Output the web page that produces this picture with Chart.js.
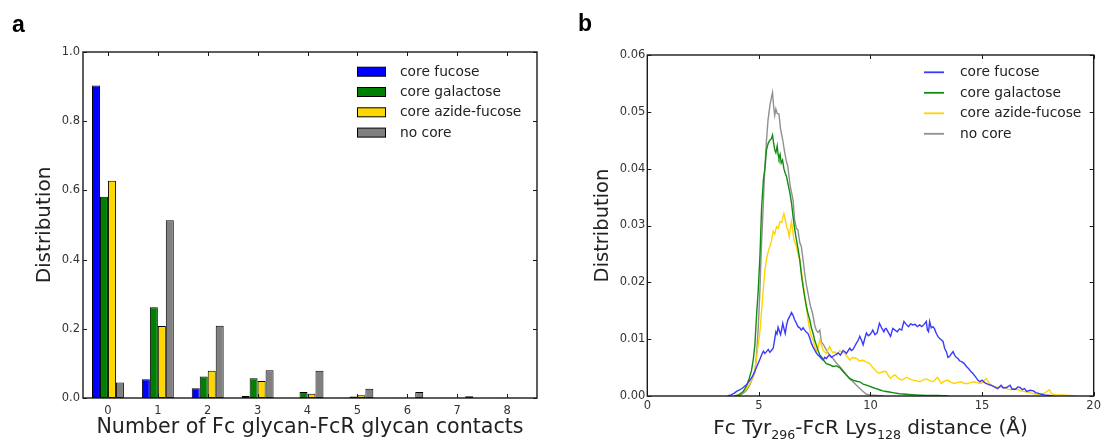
<!DOCTYPE html>
<html>
<head>
<meta charset="utf-8">
<script src="https://cdn.jsdelivr.net/npm/chart.js@4.4.1/dist/chart.umd.min.js"></script>
<style>
  html, body { margin: 0; padding: 0; background: #fff; }
  #wrap { position: relative; width: 1104px; height: 441px; }
  canvas { position: absolute; top: 0; }
  #contacts { left: 0; }
  #distance { left: 552px; }
</style>
</head>
<body>
<div id="wrap">
  <canvas id="contacts" width="552" height="441"></canvas>
  <canvas id="distance" width="552" height="441"></canvas>
</div>
<script>
// ---- panel a: glycan-glycan contact counts ----
const contactCounts = [0, 1, 2, 3, 4, 5, 6, 7, 8];
const fucoseContacts    = [0.903, 0.054, 0.028, 0.006, 0.001, 0.001, 0.0005, 0.0005, 0.0005];
const galactoseContacts = [0.582, 0.262, 0.062, 0.057, 0.017, 0.004, 0.001, 0.0005, 0.0005];
const azideContacts     = [0.628, 0.208, 0.079, 0.049, 0.012, 0.008, 0.001, 0.0005, 0.0005];
const noCoreContacts    = [0.045, 0.514, 0.209, 0.080, 0.079, 0.027, 0.017, 0.005, 0.001];

// ---- panel b: Tyr296 - Lys128 distance histograms, [distance (A), fraction] ----
const fucoseDist = [
  [3.6,0],[3.75,0.0002],[3.9,0.0005],[4.0,0.0008],[4.15,0.0011],[4.3,0.0015],[4.45,0.002],[4.6,0.0028],
  [4.72,0.0035],[4.82,0.0044],[4.95,0.0056],[5.05,0.0065],[5.12,0.0072],[5.2,0.0079],[5.27,0.0075],
  [5.34,0.0078],[5.42,0.0082],[5.49,0.0077],[5.56,0.008],[5.64,0.0084],[5.7,0.0098],[5.76,0.0113],
  [5.81,0.0109],[5.86,0.0121],[5.92,0.0114],[5.97,0.0108],[6.02,0.0117],[6.07,0.0128],[6.12,0.0119],
  [6.18,0.011],[6.24,0.0125],[6.3,0.0134],[6.38,0.014],[6.46,0.0147],[6.53,0.0142],[6.6,0.0134],
  [6.68,0.0128],[6.75,0.0122],[6.83,0.012],[6.9,0.0116],[6.98,0.012],[7.05,0.0116],[7.13,0.0112],
  [7.2,0.011],[7.28,0.0102],[7.35,0.0093],[7.43,0.0086],[7.5,0.0081],[7.57,0.0076],[7.65,0.0072],
  [7.73,0.0069],[7.8,0.0066],[7.88,0.0063],[7.95,0.0068],[8.02,0.0066],[8.1,0.007],[8.17,0.0072],
  [8.25,0.0068],[8.32,0.007],[8.45,0.0073],[8.55,0.0076],[8.65,0.0072],[8.77,0.008],[8.85,0.0078],
  [8.92,0.0075],[9.0,0.008],[9.07,0.0084],[9.15,0.008],[9.22,0.0082],[9.3,0.0088],[9.37,0.0093],
  [9.45,0.0098],[9.52,0.0105],[9.6,0.0098],[9.67,0.009],[9.75,0.0102],[9.82,0.0111],[9.9,0.0106],
  [9.97,0.0108],[10.05,0.0112],[10.1,0.0116],[10.2,0.0108],[10.3,0.0111],[10.35,0.012],[10.4,0.0128],
  [10.5,0.012],[10.6,0.0113],[10.65,0.0118],[10.7,0.0119],[10.8,0.0112],[10.9,0.0105],[10.95,0.0112],
  [11.0,0.0119],[11.1,0.0116],[11.2,0.0113],[11.3,0.0118],[11.4,0.0116],[11.45,0.0124],[11.5,0.0131],
  [11.6,0.0126],[11.7,0.0122],[11.8,0.0127],[11.9,0.0125],[12.0,0.0126],[12.1,0.0122],[12.2,0.0125],
  [12.3,0.0122],[12.4,0.0126],[12.5,0.0131],[12.55,0.0116],[12.6,0.0113],[12.65,0.0131],[12.72,0.012],
  [12.8,0.0122],[12.87,0.0118],[12.95,0.011],[13.02,0.0105],[13.1,0.0101],[13.17,0.0099],[13.25,0.0096],
  [13.32,0.0084],[13.4,0.0078],[13.47,0.0068],[13.55,0.007],[13.62,0.0074],[13.7,0.0078],[13.77,0.0072],
  [13.84,0.0068],[13.92,0.0066],[13.99,0.0062],[14.1,0.006],[14.2,0.0057],[14.3,0.0052],[14.4,0.0048],
  [14.5,0.0043],[14.58,0.004],[14.7,0.0034],[14.81,0.0028],[14.9,0.0025],[15.0,0.0028],[15.1,0.0024],
  [15.18,0.0022],[15.3,0.002],[15.4,0.0019],[15.55,0.0016],[15.7,0.0013],[15.85,0.0019],[15.95,0.0014],
  [16.1,0.0015],[16.25,0.0019],[16.35,0.0012],[16.5,0.0012],[16.6,0.0016],[16.7,0.0015],[16.8,0.0011],
  [16.9,0.0013],[17.0,0.0008],[17.15,0.001],[17.3,0.0009],[17.4,0.0006],[17.5,0.0005],[17.65,0.0003],
  [17.8,0.0002],[18.0,0.0001],[18.2,0]
];
const galactoseDist = [
  [3.9,0],[4.1,0.0002],[4.3,0.0008],[4.45,0.0018],[4.56,0.003],[4.67,0.0045],[4.75,0.0065],[4.82,0.009],
  [4.9,0.0145],[4.97,0.0185],[5.05,0.025],[5.12,0.033],[5.2,0.038],[5.27,0.04],[5.34,0.0433],
  [5.42,0.0445],[5.49,0.045],[5.55,0.0452],[5.61,0.0459],[5.66,0.0445],[5.71,0.0433],[5.76,0.0428],
  [5.82,0.044],[5.86,0.0425],[5.9,0.0418],[5.95,0.0425],[6.0,0.041],[6.06,0.0415],[6.12,0.04],
  [6.18,0.0392],[6.24,0.0386],[6.32,0.037],[6.39,0.0357],[6.46,0.034],[6.53,0.0316],[6.6,0.0295],
  [6.68,0.0275],[6.75,0.026],[6.83,0.024],[6.9,0.0215],[6.98,0.0192],[7.05,0.0175],[7.13,0.0157],
  [7.2,0.0145],[7.28,0.0134],[7.35,0.012],[7.43,0.011],[7.5,0.0098],[7.57,0.009],[7.65,0.008],
  [7.73,0.0072],[7.8,0.0069],[7.88,0.0064],[8.02,0.0057],[8.17,0.0055],[8.32,0.0052],[8.47,0.0053],
  [8.62,0.005],[8.77,0.0043],[8.92,0.0037],[9.07,0.0031],[9.22,0.0028],[9.37,0.0026],[9.52,0.0025],
  [9.67,0.0021],[9.82,0.0019],[9.97,0.0017],[10.1,0.0015],[10.25,0.0013],[10.4,0.0011],[10.55,0.0009],
  [10.7,0.0008],[10.85,0.0007],[11.0,0.0006],[11.3,0.0004],[11.6,0.0003],[12.0,0.0002],[12.5,0.0001],
  [13.0,0.0001],[13.5,0]
];
const azideDist = [
  [3.9,0],[4.1,0.0002],[4.3,0.0007],[4.45,0.0013],[4.6,0.0022],[4.72,0.0033],[4.82,0.0045],[4.95,0.0085],
  [5.05,0.0115],[5.12,0.015],[5.2,0.019],[5.27,0.0222],[5.34,0.024],[5.42,0.0255],[5.49,0.0263],
  [5.56,0.0272],[5.64,0.029],[5.71,0.0285],[5.79,0.0298],[5.86,0.0295],[5.94,0.0307],[6.02,0.0305],
  [6.12,0.0321],[6.18,0.031],[6.24,0.0298],[6.3,0.0292],[6.36,0.028],[6.41,0.0295],[6.46,0.0307],
  [6.52,0.029],[6.57,0.0275],[6.62,0.027],[6.68,0.0263],[6.75,0.025],[6.83,0.024],[6.9,0.022],
  [6.98,0.0198],[7.05,0.0178],[7.13,0.0157],[7.2,0.0135],[7.28,0.0116],[7.35,0.0105],[7.43,0.0098],
  [7.5,0.0088],[7.57,0.0078],[7.65,0.0085],[7.73,0.0099],[7.8,0.009],[7.88,0.008],[7.95,0.0078],
  [8.02,0.0075],[8.1,0.0082],[8.17,0.0087],[8.25,0.008],[8.32,0.0076],[8.4,0.0078],[8.5,0.0072],
  [8.62,0.008],[8.72,0.0077],[8.85,0.0075],[8.95,0.007],[9.07,0.0063],[9.2,0.0068],[9.37,0.0066],
  [9.5,0.0062],[9.67,0.0063],[9.8,0.006],[9.97,0.0057],[10.1,0.005],[10.2,0.0046],[10.3,0.0042],
  [10.4,0.004],[10.55,0.0043],[10.7,0.0043],[10.8,0.0036],[10.9,0.0031],[11.0,0.0035],[11.1,0.0037],
  [11.25,0.0031],[11.4,0.0028],[11.5,0.003],[11.6,0.0033],[11.75,0.003],[11.9,0.0028],[12.05,0.0027],
  [12.2,0.0025],[12.35,0.0028],[12.5,0.003],[12.65,0.0027],[12.8,0.0025],[12.9,0.0029],[13.0,0.0033],
  [13.1,0.0027],[13.17,0.0022],[13.3,0.0026],[13.47,0.0028],[13.6,0.0024],[13.77,0.0022],[13.9,0.0024],
  [14.07,0.0025],[14.2,0.0022],[14.36,0.0022],[14.5,0.0024],[14.66,0.0025],[14.8,0.0023],[14.96,0.0022],
  [15.08,0.0026],[15.18,0.0031],[15.3,0.0024],[15.4,0.0019],[15.55,0.0017],[15.7,0.0015],[15.85,0.0016],
  [16.0,0.0015],[16.15,0.0012],[16.3,0.0011],[16.45,0.0013],[16.6,0.0011],[16.75,0.0009],[16.9,0.0008],
  [17.05,0.0007],[17.2,0.0005],[17.35,0.0004],[17.5,0.0003],[17.65,0.0004],[17.8,0.0005],[17.95,0.0009],
  [18.02,0.0011],[18.1,0.0004],[18.3,0.0002],[18.6,0.0002],[18.9,0.0001],[19.2,0]
];
const noCoreDist = [
  [3.9,0],[4.15,0.0001],[4.3,0.0005],[4.45,0.001],[4.6,0.002],[4.75,0.0035],[4.82,0.0042],[4.9,0.0075],
  [4.97,0.012],[5.04,0.018],[5.11,0.026],[5.19,0.033],[5.26,0.0398],[5.34,0.045],[5.41,0.0486],
  [5.49,0.051],[5.56,0.0525],[5.61,0.0534],[5.66,0.051],[5.71,0.0494],[5.76,0.0505],[5.82,0.0497],
  [5.9,0.0496],[5.97,0.047],[6.07,0.045],[6.15,0.043],[6.22,0.0415],[6.3,0.0403],[6.4,0.037],
  [6.53,0.0345],[6.6,0.031],[6.68,0.0295],[6.75,0.0292],[6.83,0.027],[6.9,0.0263],[6.98,0.024],
  [7.05,0.0216],[7.13,0.0195],[7.2,0.0181],[7.3,0.016],[7.4,0.0146],[7.5,0.0125],[7.57,0.0116],
  [7.65,0.0112],[7.73,0.0116],[7.8,0.0095],[7.9,0.009],[8.02,0.0081],[8.17,0.0072],[8.32,0.0066],
  [8.47,0.0058],[8.62,0.0052],[8.77,0.0045],[8.92,0.0037],[9.07,0.003],[9.22,0.0025],[9.37,0.0019],
  [9.52,0.0013],[9.67,0.0008],[9.82,0.0003],[10.0,0.0002],[10.3,0.0001],[10.6,0]
];

const seriesNames = ['core fucose', 'core galactose', 'core azide-fucose', 'no core'];
const barColors = ['#0000ff', '#008000', '#ffd700', '#808080'];
const lineColors = ['#3a3aff', '#128c12', '#ffd400', '#909090'];

Chart.defaults.font.family = '"DejaVu Sans", sans-serif';
Chart.defaults.font.size = 11.5;
Chart.defaults.color = '#333';

// matplotlib-like box with inward ticks on all four sides
const frameTicks = {
  id: 'frameTicks',
  afterDatasetsDraw(chart) {
    const {ctx, chartArea: a, scales: {x, y}} = chart;
    const len = 4;
    ctx.save();
    ctx.strokeStyle = '#1a1a1a';
    ctx.lineWidth = 1;
    ctx.beginPath();
    x.ticks.forEach(t => {
      const px = Math.round(x.getPixelForValue(t.value)) + 0.5;
      ctx.moveTo(px, a.top); ctx.lineTo(px, a.top + len);
      ctx.moveTo(px, a.bottom); ctx.lineTo(px, a.bottom - len);
    });
    y.ticks.forEach(t => {
      const py = Math.round(y.getPixelForValue(t.value)) + 0.5;
      ctx.moveTo(a.left, py); ctx.lineTo(a.left + len, py);
      ctx.moveTo(a.right, py); ctx.lineTo(a.right - len, py);
    });
    ctx.stroke();
    ctx.lineWidth = 1.4;
    ctx.strokeRect(a.left, a.top, a.right - a.left, a.bottom - a.top);
    ctx.restore();
  }
};

// legend box inside the axes, drawn from the dataset styles
const boxLegend = {
  id: 'boxLegend',
  afterDraw(chart, args, opts) {
    const ctx = chart.ctx;
    ctx.save();
    ctx.font = '13.8px "DejaVu Sans"';
    ctx.textBaseline = 'middle';
    chart.data.datasets.forEach((ds, i) => {
      const cy = opts.top + i * opts.gap;
      if (opts.kind === 'bar') {
        ctx.fillStyle = ds.backgroundColor;
        ctx.fillRect(opts.left, cy - 4.5, 29, 9);
        ctx.strokeStyle = '#000';
        ctx.lineWidth = 1;
        ctx.strokeRect(opts.left + 0.5, cy - 4.5, 28, 9);
      } else {
        ctx.strokeStyle = ds.borderColor;
        ctx.lineWidth = 1.8;
        ctx.beginPath();
        ctx.moveTo(opts.left, cy);
        ctx.lineTo(opts.left + 20, cy);
        ctx.stroke();
      }
      ctx.fillStyle = '#222';
      ctx.fillText(ds.label, opts.textX, cy + 0.5);
    });
    ctx.restore();
  }
};

// panel letter and (optionally) an x title with subscripts
const panelText = {
  id: 'panelText',
  afterDraw(chart, args, opts) {
    const ctx = chart.ctx;
    ctx.save();
    ctx.fillStyle = '#000';
    ctx.font = 'bold 23px "Liberation Sans", Arial';
    ctx.textBaseline = 'alphabetic';
    ctx.fillText(opts.letter, opts.letterX, opts.letterY);
    if (opts.parts) {
      const big = '20px "DejaVu Sans"', small = '12.6px "DejaVu Sans"';
      let w = 0;
      opts.parts.forEach(([s, sub]) => { ctx.font = sub ? small : big; w += ctx.measureText(s).width; });
      const a = chart.chartArea;
      let x = (a.left + a.right) / 2 - w / 2;
      ctx.fillStyle = '#222';
      opts.parts.forEach(([s, sub]) => {
        ctx.font = sub ? small : big;
        ctx.fillText(s, x, opts.titleY + (sub ? 5 : 0));
        x += ctx.measureText(s).width;
      });
    }
    ctx.restore();
  }
};

const barSets = [fucoseContacts, galactoseContacts, azideContacts, noCoreContacts].map((vals, i) => ({
  label: seriesNames[i],
  data: contactCounts.map((c, j) => ({x: c, y: vals[j]})),
  backgroundColor: barColors[i],
  borderColor: '#000',
  borderWidth: 1,
  borderSkipped: false,
  categoryPercentage: 0.64,
  barPercentage: 1.0
}));

new Chart(document.getElementById('contacts'), {
  type: 'bar',
  data: {datasets: barSets},
  options: {
    responsive: false,
    animation: false,
    layout: {padding: {left: 0, top: 52, right: 15, bottom: 0}},
    plugins: {
      legend: {display: false},
      tooltip: {enabled: false},
      boxLegend: {kind: 'bar', left: 357, top: 71.7, gap: 20.3, textX: 400},
      panelText: {letter: 'a', letterX: 12, letterY: 32}
    },
    scales: {
      x: {
        type: 'linear', offset: false, min: -0.5, max: 8.6,
        afterBuildTicks: s => { s.ticks = contactCounts.map(v => ({value: v})); },
        afterFit: s => { s.height = 43; },
        grid: {display: false, drawTicks: false},
        border: {display: false},
        ticks: {padding: 6, callback: v => String(v)},
        title: {display: true, text: 'Number of Fc glycan-FcR glycan contacts',
                font: {size: 20.6}, color: '#222', padding: {top: 0, bottom: 1}}
      },
      y: {
        min: 0, max: 1.0,
        afterFit: s => { s.width = 83; },
        grid: {display: false, drawTicks: false},
        border: {display: false},
        ticks: {stepSize: 0.2, padding: 3, callback: v => v.toFixed(1)},
        title: {display: true, text: 'Distribution', font: {size: 20}, color: '#222',
                padding: {top: 33, bottom: 0}}
      }
    }
  },
  plugins: [frameTicks, boxLegend, panelText]
});

const lineSets = [fucoseDist, galactoseDist, azideDist, noCoreDist].map((pts, i) => ({
  label: seriesNames[i],
  data: pts.map(([d, f]) => ({x: d, y: f})),
  borderColor: lineColors[i],
  borderWidth: 1.4,
  pointRadius: 0,
  tension: 0,
  fill: false
}));

new Chart(document.getElementById('distance'), {
  type: 'line',
  data: {datasets: lineSets},
  options: {
    responsive: false,
    animation: false,
    layout: {padding: {left: 0, top: 55, right: 10, bottom: 0}},
    plugins: {
      legend: {display: false},
      tooltip: {enabled: false},
      boxLegend: {kind: 'line', left: 372, top: 72.3, gap: 20.5, textX: 408},
      panelText: {letter: 'b', letterX: 26, letterY: 31, titleY: 434,
        parts: [['Fc Tyr', 0], ['296', 1], ['-FcR Lys', 0], ['128', 1], [' distance (\u00c5)', 0]]}
    },
    scales: {
      x: {
        type: 'linear', min: 0, max: 20,
        afterFit: s => { s.height = 45; },
        grid: {display: false, drawTicks: false},
        border: {display: false},
        ticks: {stepSize: 5, padding: 3, callback: v => String(v)}
      },
      y: {
        min: 0, max: 0.06,
        afterFit: s => { s.width = 95.3; },
        grid: {display: false, drawTicks: false},
        border: {display: false},
        ticks: {stepSize: 0.01, padding: 2, callback: v => v.toFixed(2)},
        title: {display: true, text: 'Distribution', font: {size: 19.5}, color: '#222',
                padding: {top: 39, bottom: 0}}
      }
    }
  },
  plugins: [frameTicks, boxLegend, panelText]
});
</script>
</body>
</html>
